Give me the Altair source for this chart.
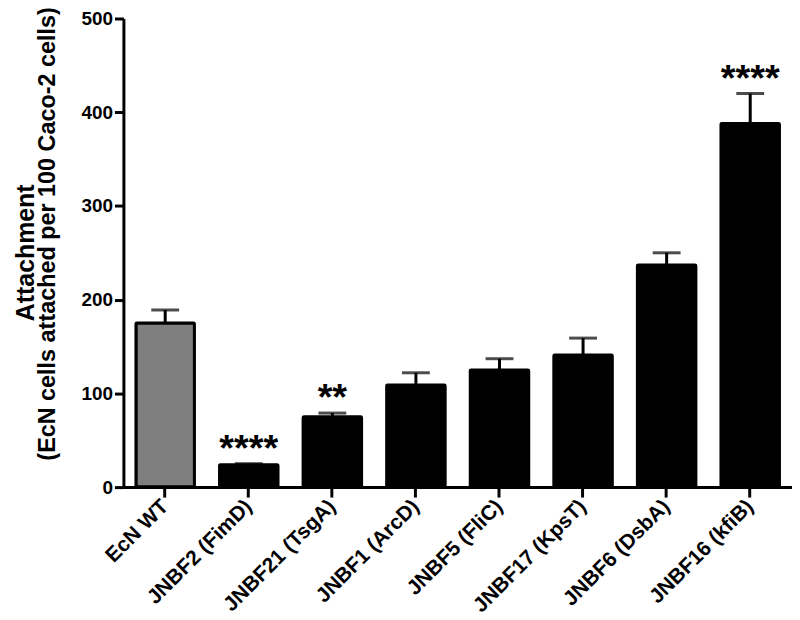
import altair as alt
import pandas as pd

categories = ["EcN WT", "JNBF2 (FimD)", "JNBF21 (TsgA)", "JNBF1 (ArcD)",
              "JNBF5 (FliC)", "JNBF17 (KpsT)", "JNBF6 (DsbA)", "JNBF16 (kfiB)"]
means = [175, 24, 75, 109, 125, 141, 237, 388]
sems = [14, 1, 4, 13, 12, 18, 13, 32]
stars = ["", "****", "**", "", "", "", "", "****"]
fills = ["#7f7f7f", "#000000", "#000000", "#000000", "#000000", "#000000", "#000000", "#000000"]
title_line1 = "Attachment"
title_line2 = "(EcN cells attached per 100 Caco-2 cells)"

df = pd.DataFrame({
    "strain": categories,
    "mean": means,
    "sem": sems,
    "star": stars,
    "fill": fills,
})
df["top"] = df["mean"] + df["sem"]

FONT = "Liberation Sans"

x = alt.X("strain:N", sort=categories, title=None,
          scale=alt.Scale(paddingInner=0.3, paddingOuter=0.15),
          axis=alt.Axis(labelAngle=-45, labelAlign="right", labelBaseline="middle",
                        labelPadding=6, tickSize=10, labelFontSize=21))
y = alt.Y("mean:Q", title=title_line2,
          scale=alt.Scale(domain=[0, 500], nice=False),
          axis=alt.Axis(values=[0, 100, 200, 300, 400, 500], tickSize=9,
                        labelFontSize=19, titleFontSize=23.5, titlePadding=22,
                        titleY=216))

bars = alt.Chart(df).mark_bar(stroke="black", strokeWidth=3, cornerRadius=1).encode(
    x=x, y=y, fill=alt.Fill("fill:N", scale=None)
)

err_rule = alt.Chart(df).mark_rule(color="black", strokeWidth=3).encode(
    x=alt.X("strain:N", sort=categories),
    y="mean:Q",
    y2="top:Q",
)

err_cap = alt.Chart(df).mark_tick(color="black", thickness=3, size=28).encode(
    x=alt.X("strain:N", sort=categories),
    y="top:Q",
)

star_text = alt.Chart(df).mark_text(font=FONT, fontWeight="bold", fontSize=38,
                                    baseline="middle", dy=-14, color="black").encode(
    x=alt.X("strain:N", sort=categories),
    y="top:Q",
    text="star:N",
)

chart = alt.layer(bars, err_rule, err_cap, star_text).properties(
    width=672, height=471,
    autosize=alt.AutoSizeParams(type="none"),
    padding={"left": 116, "top": 9, "right": 0, "bottom": 132},
    title=alt.TitleParams(title_line1, orient="left", anchor="middle", font=FONT,
                          fontWeight="bold", fontSize=25, color="black", offset=-4),
).configure_view(stroke=None).configure_axis(
    grid=False,
    domainColor="black", domainWidth=3,
    tickColor="black", tickWidth=3,
    labelFont=FONT, labelFontWeight="bold", labelColor="black",
    titleFont=FONT, titleFontWeight="bold", titleColor="black",
)

chart.save("out.html", embed_options={"renderer": "svg", "actions": False})
